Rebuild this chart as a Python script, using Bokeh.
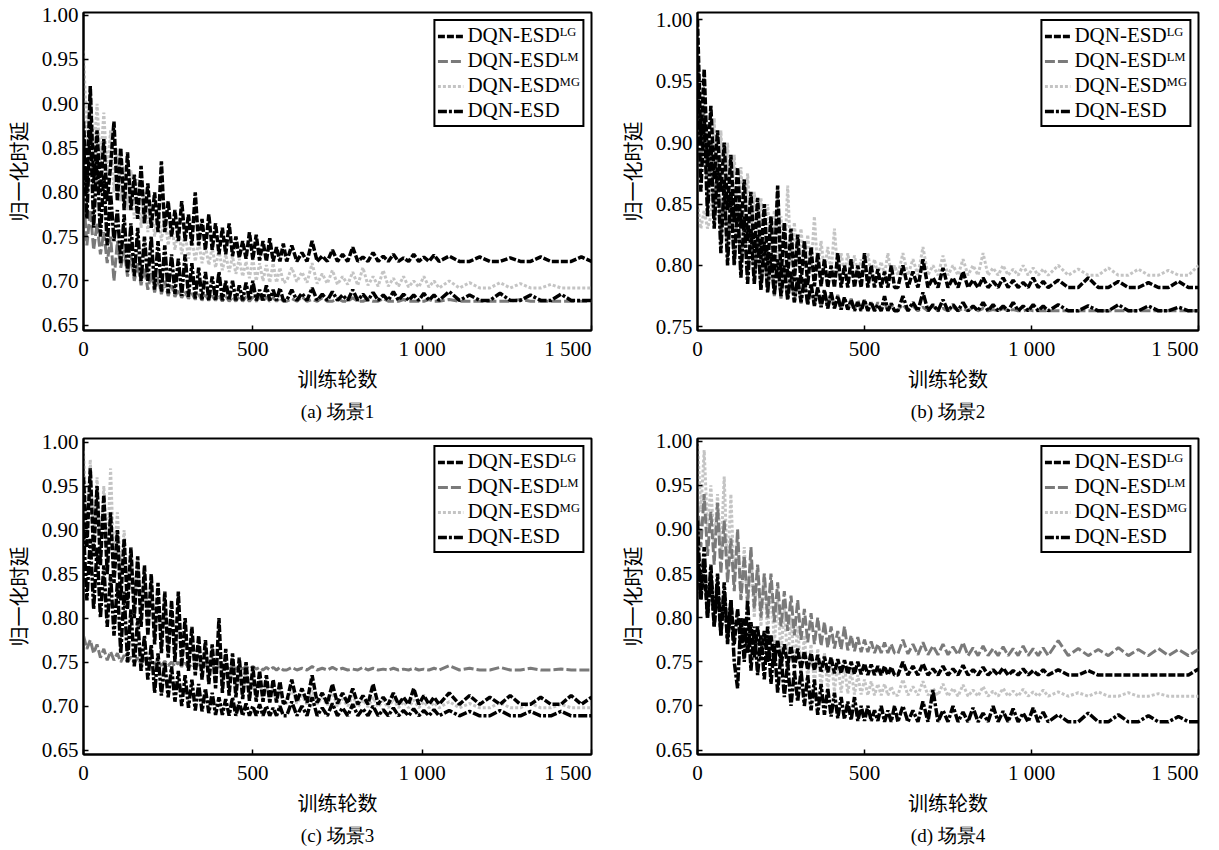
from bokeh.plotting import figure
from bokeh.layouts import column, row
from bokeh.models import Legend, LegendItem, FixedTicker, Title, PrintfTickFormatter, Range1d
from bokeh.embed import file_html
from bokeh.resources import INLINE

# training episodes at which the curves were read (dense early, sparser in the flat tail)
episodes = list(range(0, 600, 10)) + list(range(600, 1050, 15)) + list(range(1050, 1501, 30))

series_labels = ["DQN-ESDᴸᴳ", "DQN-ESDᴸᴹ", "DQN-ESDᴹᴳ", "DQN-ESD"]
x_ticks = [0, 500, 1000, 1500]
x_tick_labels = {0: "0", 500: "500", 1000: "1 000", 1500: "1 500" + "\u00a0" * 4}
y_ticks_full = [0.65, 0.70, 0.75, 0.80, 0.85, 0.90, 0.95, 1.00]
y_ticks_b = [0.75, 0.80, 0.85, 0.90, 0.95, 1.00]
captions = ["(a) 场景1", "(b) 场景2", "(c) 场景3", "(d) 场景4"]
x_title = "训练轮数"
y_title = "归一化时延"

# ---------------- scene 1 ----------------
a_lg = [0.88, 0.80, 0.92, 0.81, 0.87, 0.80, 0.86, 0.79, 0.83, 0.88,
        0.79, 0.85, 0.78, 0.845, 0.78, 0.82, 0.77, 0.83, 0.765, 0.81,
        0.76, 0.80, 0.755, 0.835, 0.755, 0.79, 0.75, 0.78, 0.745, 0.79,
        0.745, 0.775, 0.74, 0.80, 0.74, 0.77, 0.735, 0.775, 0.735, 0.765,
        0.73, 0.76, 0.73, 0.765, 0.728, 0.75, 0.726, 0.745, 0.725, 0.755,
        0.724, 0.752, 0.723, 0.745, 0.722, 0.748, 0.722, 0.738, 0.722, 0.742,
        0.722, 0.74, 0.722, 0.732, 0.722, 0.745, 0.722, 0.728, 0.722, 0.735,
        0.722, 0.73, 0.722, 0.738, 0.722, 0.727, 0.722, 0.732, 0.722, 0.728,
        0.722, 0.73, 0.722, 0.726, 0.722, 0.73, 0.722, 0.727, 0.722, 0.729,
        0.722, 0.728, 0.722, 0.722, 0.727, 0.722, 0.722, 0.726, 0.722, 0.722,
        0.727, 0.722, 0.722, 0.722, 0.727, 0.722]
a_lm = [0.80, 0.74, 0.78, 0.735, 0.765, 0.73, 0.755, 0.72, 0.75, 0.70,
        0.745, 0.715, 0.735, 0.705, 0.73, 0.70, 0.72, 0.695, 0.715, 0.69,
        0.71, 0.687, 0.705, 0.685, 0.70, 0.683, 0.695, 0.682, 0.69, 0.681,
        0.688, 0.68, 0.686, 0.679, 0.685, 0.678, 0.684, 0.678, 0.683, 0.678,
        0.684, 0.677, 0.683, 0.677, 0.682, 0.677, 0.683, 0.677, 0.682, 0.677,
        0.682, 0.677, 0.682, 0.677, 0.682, 0.677, 0.681, 0.677, 0.681, 0.677,
        0.677, 0.68, 0.677, 0.682, 0.677, 0.679, 0.677, 0.681, 0.677, 0.677,
        0.68, 0.677, 0.677, 0.681, 0.677, 0.677, 0.679, 0.677, 0.677, 0.68,
        0.677, 0.677, 0.677, 0.679, 0.677, 0.677, 0.677, 0.677, 0.679, 0.677,
        0.677, 0.679, 0.677, 0.677, 0.677, 0.677, 0.677, 0.677, 0.679, 0.677,
        0.677, 0.677, 0.677, 0.677, 0.677, 0.677]
a_mg = [0.96, 0.86, 0.92, 0.84, 0.90, 0.83, 0.89, 0.82, 0.87, 0.80,
        0.85, 0.79, 0.83, 0.78, 0.825, 0.77, 0.815, 0.76, 0.80, 0.755,
        0.79, 0.75, 0.78, 0.745, 0.775, 0.74, 0.765, 0.735, 0.76, 0.73,
        0.755, 0.725, 0.75, 0.722, 0.745, 0.72, 0.74, 0.718, 0.738, 0.715,
        0.735, 0.712, 0.73, 0.71, 0.728, 0.708, 0.725, 0.705, 0.722, 0.703,
        0.725, 0.70, 0.72, 0.70, 0.718, 0.698, 0.72, 0.698, 0.715, 0.698,
        0.70, 0.715, 0.699, 0.71, 0.698, 0.72, 0.697, 0.708, 0.697, 0.712,
        0.696, 0.705, 0.696, 0.71, 0.695, 0.715, 0.695, 0.705, 0.694, 0.712,
        0.694, 0.703, 0.694, 0.705, 0.693, 0.70, 0.693, 0.705, 0.693, 0.70,
        0.692, 0.70, 0.692, 0.698, 0.692, 0.692, 0.698, 0.692, 0.697, 0.692,
        0.692, 0.696, 0.692, 0.692, 0.692, 0.692]
a_esd = [0.86, 0.77, 0.88, 0.76, 0.84, 0.75, 0.82, 0.74, 0.80, 0.745,
         0.78, 0.72, 0.775, 0.71, 0.765, 0.705, 0.76, 0.70, 0.75, 0.70,
         0.75, 0.69, 0.745, 0.688, 0.74, 0.686, 0.73, 0.685, 0.725, 0.683,
         0.73, 0.682, 0.72, 0.68, 0.715, 0.679, 0.71, 0.678, 0.705, 0.678,
         0.71, 0.678, 0.70, 0.678, 0.70, 0.678, 0.695, 0.678, 0.698, 0.678,
         0.70, 0.678, 0.69, 0.678, 0.695, 0.678, 0.69, 0.678, 0.692, 0.678,
         0.678, 0.69, 0.678, 0.686, 0.678, 0.692, 0.678, 0.685, 0.678, 0.688,
         0.678, 0.684, 0.678, 0.69, 0.678, 0.685, 0.678, 0.687, 0.678, 0.684,
         0.678, 0.688, 0.678, 0.685, 0.678, 0.684, 0.678, 0.686, 0.678, 0.684,
         0.678, 0.688, 0.678, 0.684, 0.678, 0.678, 0.686, 0.678, 0.678, 0.684,
         0.678, 0.678, 0.685, 0.678, 0.678, 0.678]

# ---------------- scene 2 ----------------
b_lg = [1.00, 0.90, 0.96, 0.88, 0.93, 0.87, 0.91, 0.86, 0.90, 0.845,
        0.89, 0.835, 0.88, 0.83, 0.87, 0.82, 0.86, 0.81, 0.855, 0.805,
        0.85, 0.80, 0.84, 0.795, 0.865, 0.79, 0.835, 0.79, 0.83, 0.787,
        0.825, 0.785, 0.82, 0.784, 0.815, 0.783, 0.81, 0.783, 0.805, 0.782,
        0.80, 0.782, 0.81, 0.782, 0.80, 0.782, 0.805, 0.782, 0.80, 0.782,
        0.81, 0.782, 0.80, 0.782, 0.797, 0.782, 0.795, 0.782, 0.80, 0.782,
        0.782, 0.80, 0.782, 0.795, 0.782, 0.805, 0.782, 0.79, 0.782, 0.798,
        0.782, 0.79, 0.782, 0.795, 0.782, 0.788, 0.782, 0.79, 0.782, 0.787,
        0.782, 0.79, 0.782, 0.788, 0.782, 0.786, 0.782, 0.79, 0.782, 0.787,
        0.782, 0.788, 0.782, 0.782, 0.79, 0.782, 0.782, 0.787, 0.782, 0.782,
        0.786, 0.782, 0.782, 0.787, 0.782, 0.782]
b_lm = [0.98, 0.88, 0.93, 0.85, 0.90, 0.84, 0.89, 0.82, 0.87, 0.81,
        0.86, 0.80, 0.85, 0.795, 0.84, 0.79, 0.83, 0.785, 0.82, 0.78,
        0.815, 0.778, 0.81, 0.775, 0.80, 0.773, 0.797, 0.772, 0.793, 0.77,
        0.79, 0.769, 0.787, 0.768, 0.784, 0.767, 0.782, 0.766, 0.78, 0.765,
        0.778, 0.765, 0.776, 0.764, 0.774, 0.764, 0.773, 0.764, 0.772, 0.763,
        0.772, 0.763, 0.77, 0.763, 0.77, 0.763, 0.77, 0.763, 0.769, 0.763,
        0.764, 0.768, 0.763, 0.767, 0.763, 0.766, 0.763, 0.767, 0.763, 0.765,
        0.763, 0.766, 0.763, 0.765, 0.763, 0.766, 0.763, 0.765, 0.763, 0.764,
        0.763, 0.765, 0.763, 0.764, 0.763, 0.763, 0.764, 0.763, 0.763, 0.763,
        0.763, 0.763, 0.763, 0.763, 0.763, 0.763, 0.763, 0.763, 0.763, 0.763,
        0.763, 0.763, 0.763, 0.763, 0.763, 0.763]
b_mg = [0.85, 0.83, 0.845, 0.83, 0.84, 0.92, 0.84, 0.91, 0.85, 0.90,
        0.84, 0.89, 0.835, 0.88, 0.83, 0.875, 0.825, 0.86, 0.82, 0.855,
        0.815, 0.85, 0.81, 0.845, 0.805, 0.84, 0.80, 0.865, 0.80, 0.835,
        0.798, 0.83, 0.797, 0.825, 0.796, 0.84, 0.795, 0.82, 0.795, 0.815,
        0.794, 0.83, 0.794, 0.81, 0.793, 0.81, 0.793, 0.808, 0.793, 0.805,
        0.792, 0.81, 0.792, 0.805, 0.792, 0.803, 0.792, 0.81, 0.792, 0.80,
        0.792, 0.81, 0.792, 0.805, 0.792, 0.815, 0.792, 0.80, 0.792, 0.808,
        0.792, 0.80, 0.792, 0.805, 0.792, 0.80, 0.792, 0.81, 0.792, 0.798,
        0.792, 0.80, 0.792, 0.797, 0.792, 0.80, 0.792, 0.798, 0.792, 0.797,
        0.792, 0.80, 0.792, 0.797, 0.792, 0.792, 0.798, 0.792, 0.792, 0.797,
        0.792, 0.792, 0.796, 0.792, 0.792, 0.80]
b_esd = [0.97, 0.86, 0.92, 0.84, 0.90, 0.83, 0.88, 0.81, 0.87, 0.80,
         0.86, 0.80, 0.85, 0.79, 0.84, 0.785, 0.83, 0.785, 0.825, 0.78,
         0.82, 0.778, 0.81, 0.776, 0.805, 0.775, 0.80, 0.772, 0.795, 0.77,
         0.79, 0.77, 0.79, 0.768, 0.785, 0.767, 0.782, 0.766, 0.78, 0.765,
         0.778, 0.765, 0.775, 0.764, 0.774, 0.764, 0.772, 0.763, 0.77, 0.763,
         0.772, 0.763, 0.77, 0.763, 0.768, 0.763, 0.775, 0.763, 0.769, 0.763,
         0.763, 0.775, 0.763, 0.77, 0.763, 0.778, 0.763, 0.768, 0.763, 0.772,
         0.763, 0.768, 0.763, 0.77, 0.763, 0.767, 0.763, 0.77, 0.763, 0.768,
         0.763, 0.767, 0.763, 0.77, 0.763, 0.767, 0.763, 0.768, 0.763, 0.767,
         0.763, 0.768, 0.763, 0.763, 0.767, 0.763, 0.763, 0.768, 0.763, 0.763,
         0.767, 0.763, 0.763, 0.766, 0.763, 0.763]

# ---------------- scene 3 ----------------
c_lg = [0.96, 0.88, 0.97, 0.87, 0.95, 0.86, 0.94, 0.85, 0.92, 0.84,
        0.90, 0.82, 0.89, 0.81, 0.88, 0.80, 0.87, 0.79, 0.86, 0.78,
        0.85, 0.77, 0.84, 0.76, 0.83, 0.755, 0.82, 0.75, 0.83, 0.745,
        0.80, 0.74, 0.79, 0.735, 0.78, 0.73, 0.775, 0.725, 0.77, 0.72,
        0.80, 0.715, 0.765, 0.712, 0.76, 0.71, 0.755, 0.708, 0.75, 0.706,
        0.745, 0.705, 0.74, 0.705, 0.735, 0.704, 0.73, 0.704, 0.728, 0.703,
        0.705, 0.73, 0.705, 0.72, 0.704, 0.735, 0.704, 0.715, 0.703, 0.725,
        0.703, 0.715, 0.703, 0.72, 0.702, 0.712, 0.702, 0.725, 0.702, 0.71,
        0.702, 0.715, 0.702, 0.71, 0.702, 0.72, 0.702, 0.712, 0.702, 0.71,
        0.702, 0.715, 0.702, 0.712, 0.702, 0.71, 0.702, 0.712, 0.702, 0.702,
        0.71, 0.702, 0.702, 0.712, 0.702, 0.71]
c_lm = [0.78, 0.765, 0.775, 0.76, 0.77, 0.755, 0.765, 0.752, 0.762, 0.752,
        0.76, 0.75, 0.758, 0.75, 0.756, 0.749, 0.755, 0.748, 0.754, 0.747,
        0.753, 0.747, 0.752, 0.746, 0.751, 0.746, 0.75, 0.745, 0.75, 0.745,
        0.749, 0.744, 0.748, 0.744, 0.748, 0.744, 0.747, 0.743, 0.747, 0.743,
        0.746, 0.743, 0.746, 0.742, 0.746, 0.742, 0.745, 0.742, 0.745, 0.742,
        0.745, 0.742, 0.744, 0.741, 0.744, 0.741, 0.744, 0.741, 0.744, 0.741,
        0.741, 0.744, 0.741, 0.743, 0.741, 0.745, 0.741, 0.743, 0.741, 0.744,
        0.741, 0.743, 0.741, 0.742, 0.741, 0.744, 0.741, 0.743, 0.741, 0.742,
        0.741, 0.743, 0.741, 0.742, 0.741, 0.743, 0.741, 0.742, 0.741, 0.743,
        0.741, 0.746, 0.741, 0.743, 0.741, 0.741, 0.744, 0.741, 0.741, 0.743,
        0.741, 0.741, 0.742, 0.741, 0.741, 0.741]
c_mg = [0.99, 0.90, 0.98, 0.89, 0.96, 0.88, 0.95, 0.87, 0.97, 0.86,
        0.92, 0.85, 0.90, 0.84, 0.88, 0.82, 0.87, 0.81, 0.85, 0.80,
        0.84, 0.78, 0.82, 0.77, 0.81, 0.765, 0.80, 0.76, 0.79, 0.75,
        0.78, 0.745, 0.775, 0.74, 0.77, 0.735, 0.765, 0.73, 0.76, 0.725,
        0.755, 0.72, 0.75, 0.718, 0.755, 0.715, 0.745, 0.712, 0.74, 0.71,
        0.735, 0.708, 0.73, 0.706, 0.725, 0.705, 0.72, 0.704, 0.72, 0.703,
        0.703, 0.72, 0.703, 0.712, 0.702, 0.718, 0.702, 0.71, 0.701, 0.715,
        0.70, 0.708, 0.70, 0.712, 0.699, 0.707, 0.699, 0.71, 0.699, 0.706,
        0.698, 0.708, 0.698, 0.705, 0.698, 0.707, 0.698, 0.705, 0.698, 0.704,
        0.698, 0.705, 0.698, 0.703, 0.698, 0.698, 0.704, 0.698, 0.698, 0.703,
        0.698, 0.698, 0.702, 0.698, 0.698, 0.698]
c_esd = [0.90, 0.82, 0.89, 0.81, 0.88, 0.80, 0.86, 0.79, 0.85, 0.78,
         0.84, 0.76, 0.83, 0.75, 0.81, 0.745, 0.80, 0.74, 0.78, 0.73,
         0.77, 0.715, 0.76, 0.712, 0.75, 0.71, 0.745, 0.705, 0.74, 0.70,
         0.735, 0.698, 0.73, 0.695, 0.725, 0.694, 0.72, 0.692, 0.715, 0.69,
         0.71, 0.69, 0.708, 0.689, 0.71, 0.689, 0.705, 0.689, 0.703, 0.689,
         0.70, 0.689, 0.702, 0.689, 0.70, 0.689, 0.698, 0.689, 0.70, 0.689,
         0.689, 0.705, 0.689, 0.70, 0.689, 0.71, 0.689, 0.698, 0.689, 0.703,
         0.689, 0.698, 0.689, 0.702, 0.689, 0.697, 0.689, 0.70, 0.689, 0.696,
         0.689, 0.698, 0.689, 0.695, 0.689, 0.697, 0.689, 0.695, 0.689, 0.696,
         0.689, 0.695, 0.689, 0.694, 0.689, 0.689, 0.695, 0.689, 0.689, 0.694,
         0.689, 0.689, 0.694, 0.689, 0.689, 0.689]

# ---------------- scene 4 ----------------
d_lg = [0.88, 0.82, 0.86, 0.80, 0.85, 0.79, 0.84, 0.78, 0.83, 0.775,
        0.82, 0.77, 0.81, 0.765, 0.80, 0.76, 0.795, 0.755, 0.79, 0.752,
        0.785, 0.75, 0.78, 0.748, 0.775, 0.746, 0.77, 0.745, 0.768, 0.743,
        0.765, 0.742, 0.762, 0.741, 0.76, 0.74, 0.758, 0.739, 0.756, 0.738,
        0.755, 0.737, 0.753, 0.737, 0.752, 0.736, 0.75, 0.736, 0.75, 0.736,
        0.748, 0.735, 0.747, 0.735, 0.745, 0.735, 0.745, 0.735, 0.744, 0.735,
        0.735, 0.75, 0.735, 0.745, 0.735, 0.748, 0.735, 0.742, 0.735, 0.745,
        0.735, 0.742, 0.735, 0.746, 0.735, 0.741, 0.735, 0.744, 0.735, 0.741,
        0.735, 0.743, 0.735, 0.74, 0.735, 0.742, 0.735, 0.74, 0.735, 0.741,
        0.735, 0.741, 0.735, 0.735, 0.74, 0.735, 0.735, 0.735, 0.735, 0.735,
        0.735, 0.735, 0.735, 0.735, 0.735, 0.742]
d_lm = [0.93, 0.88, 0.94, 0.87, 0.92, 0.86, 0.93, 0.85, 0.91, 0.84,
        0.89, 0.83, 0.90, 0.82, 0.87, 0.815, 0.88, 0.81, 0.86, 0.80,
        0.85, 0.80, 0.85, 0.795, 0.84, 0.79, 0.83, 0.785, 0.825, 0.78,
        0.82, 0.775, 0.81, 0.772, 0.805, 0.77, 0.80, 0.768, 0.795, 0.766,
        0.79, 0.765, 0.785, 0.764, 0.79, 0.763, 0.78, 0.762, 0.778, 0.761,
        0.775, 0.761, 0.773, 0.76, 0.77, 0.76, 0.772, 0.76, 0.77, 0.76,
        0.759, 0.775, 0.759, 0.77, 0.758, 0.772, 0.758, 0.768, 0.758, 0.77,
        0.758, 0.767, 0.758, 0.772, 0.757, 0.766, 0.757, 0.768, 0.757, 0.765,
        0.757, 0.767, 0.757, 0.765, 0.757, 0.768, 0.757, 0.765, 0.757, 0.766,
        0.757, 0.774, 0.757, 0.765, 0.757, 0.764, 0.757, 0.766, 0.757, 0.764,
        0.757, 0.765, 0.757, 0.764, 0.757, 0.764]
d_mg = [1.00, 0.92, 0.99, 0.90, 0.95, 0.88, 0.94, 0.87, 0.96, 0.85,
        0.94, 0.84, 0.89, 0.82, 0.88, 0.81, 0.87, 0.80, 0.86, 0.79,
        0.85, 0.78, 0.84, 0.77, 0.82, 0.76, 0.81, 0.75, 0.80, 0.745,
        0.79, 0.735, 0.78, 0.73, 0.77, 0.725, 0.765, 0.72, 0.76, 0.718,
        0.755, 0.716, 0.75, 0.715, 0.745, 0.714, 0.74, 0.713, 0.735, 0.713,
        0.73, 0.712, 0.728, 0.712, 0.725, 0.712, 0.725, 0.712, 0.722, 0.712,
        0.712, 0.73, 0.712, 0.722, 0.712, 0.728, 0.712, 0.72, 0.712, 0.725,
        0.711, 0.72, 0.711, 0.724, 0.711, 0.718, 0.711, 0.722, 0.711, 0.717,
        0.711, 0.72, 0.711, 0.717, 0.711, 0.719, 0.711, 0.716, 0.711, 0.718,
        0.711, 0.716, 0.711, 0.715, 0.711, 0.716, 0.711, 0.711, 0.715, 0.711,
        0.711, 0.714, 0.711, 0.711, 0.711, 0.711]
d_esd = [0.91, 0.82, 0.88, 0.80, 0.86, 0.79, 0.85, 0.78, 0.84, 0.77,
         0.82, 0.75, 0.72, 0.80, 0.75, 0.82, 0.74, 0.79, 0.735, 0.78,
         0.73, 0.79, 0.725, 0.77, 0.715, 0.76, 0.71, 0.75, 0.70, 0.74,
         0.705, 0.74, 0.70, 0.735, 0.695, 0.73, 0.69, 0.725, 0.69, 0.72,
         0.688, 0.715, 0.686, 0.71, 0.685, 0.705, 0.684, 0.71, 0.683, 0.70,
         0.683, 0.70, 0.683, 0.695, 0.683, 0.70, 0.682, 0.695, 0.682, 0.70,
         0.682, 0.70, 0.682, 0.695, 0.682, 0.705, 0.682, 0.718, 0.682, 0.695,
         0.682, 0.70, 0.682, 0.693, 0.682, 0.698, 0.682, 0.692, 0.682, 0.70,
         0.682, 0.694, 0.682, 0.697, 0.682, 0.692, 0.682, 0.698, 0.682, 0.693,
         0.682, 0.69, 0.682, 0.682, 0.692, 0.682, 0.682, 0.69, 0.682, 0.682,
         0.689, 0.682, 0.682, 0.688, 0.682, 0.682]

for name, arr in [("a_lg", a_lg), ("a_lm", a_lm), ("a_mg", a_mg), ("a_esd", a_esd),
                  ("b_lg", b_lg), ("b_lm", b_lm), ("b_mg", b_mg), ("b_esd", b_esd),
                  ("c_lg", c_lg), ("c_lm", c_lm), ("c_mg", c_mg), ("c_esd", c_esd),
                  ("d_lg", d_lg), ("d_lm", d_lm), ("d_mg", d_mg), ("d_esd", d_esd)]:
    assert len(arr) == len(episodes), (name, len(arr), len(episodes))

# line styles in legend order: LG, LM, MG, ESD
line_colors = ["black", "#7a7a7a", "#c4c4c4", "black"]
line_dashes = ["7 2", "10 3", "3 2", "9 2 3 2"]
line_widths = [3.5, 3, 3, 3.5]
draw_order = [2, 1, 0, 3]

SERIF = "Liberation Serif"
CJK = "Noto Sans CJK SC"


def build_panel(series, y_lo, y_hi, y_ticks, caption, width, height,
                b_left, b_right, b_top, b_bottom):
    p = figure(width=width, height=height,
               x_range=Range1d(0, 1500), y_range=Range1d(y_lo, y_hi),
               output_backend="svg", toolbar_location=None,
               min_border_left=b_left, min_border_right=b_right,
               min_border_top=b_top, min_border_bottom=b_bottom)
    p.background_fill_color = "white"
    p.border_fill_color = "white"
    p.outline_line_color = "black"
    p.outline_line_alpha = 1.0
    p.outline_line_width = 2
    p.xgrid.visible = False
    p.ygrid.visible = False

    renderers = [None] * 4
    for i in draw_order:
        renderers[i] = p.line(episodes, series[i], line_color=line_colors[i],
                              line_dash=line_dashes[i], line_width=line_widths[i])

    items = [LegendItem(label=series_labels[i], renderers=[renderers[i]]) for i in range(4)]
    legend = Legend(items=items, location="top_right")
    legend.border_line_color = "black"
    legend.border_line_alpha = 1.0
    legend.border_line_width = 2
    legend.background_fill_color = "white"
    legend.background_fill_alpha = 1.0
    legend.label_text_font = SERIF
    legend.label_text_font_size = "21px"
    legend.label_text_color = "black"
    legend.glyph_width = 26
    legend.glyph_height = 20
    legend.label_height = 20
    legend.label_standoff = 4
    legend.spacing = 0
    legend.padding = 2
    legend.margin = 7
    p.add_layout(legend)

    p.xaxis.ticker = FixedTicker(ticks=x_ticks)
    p.xaxis.major_label_overrides = x_tick_labels
    p.yaxis.ticker = FixedTicker(ticks=y_ticks)
    p.yaxis.formatter = PrintfTickFormatter(format="%.2f")
    p.xaxis.axis_label = x_title
    p.yaxis.axis_label = y_title
    for ax in (p.xaxis[0], p.yaxis[0]):
        ax.major_tick_in = 5
        ax.major_tick_out = 0
        ax.minor_tick_line_color = None
        ax.axis_line_color = "black"
        ax.axis_line_width = 2
        ax.major_tick_line_color = "black"
        ax.major_tick_line_width = 1.5
        ax.major_label_text_font = SERIF
        ax.major_label_text_font_size = "21px"
        ax.major_label_text_color = "black"
        ax.axis_label_text_font = CJK
        ax.axis_label_text_font_size = "20px"
        ax.axis_label_text_font_style = "normal"
        ax.axis_label_text_color = "black"
    p.xaxis.major_label_standoff = 6
    p.xaxis.axis_label_standoff = 0
    p.yaxis.major_label_standoff = 5
    p.yaxis.axis_label_standoff = 6

    cap = Title(text=caption, align="center", text_font=SERIF,
                text_font_size="19px", text_font_style="normal",
                text_color="black", standoff=7)
    p.add_layout(cap, "below")
    return p


pa = build_panel([a_lg, a_lm, a_mg, a_esd], 0.644, 1.003, y_ticks_full, captions[0],
                 612, 425, 80, 21, 12, 92)
pb = build_panel([b_lg, b_lm, b_mg, b_esd], 0.747, 1.006, y_ticks_b, captions[1],
                 607, 425, 85, 21, 12, 92)
pc = build_panel([c_lg, c_lm, c_mg, c_esd], 0.645, 1.004, y_ticks_full, captions[2],
                 612, 424, 80, 21, 13, 90)
pd = build_panel([d_lg, d_lm, d_mg, d_esd], 0.645, 1.003, y_ticks_full, captions[3],
                 607, 424, 85, 21, 13, 90)

layout = column(row(pa, pb), row(pc, pd))
open("out.html", "w").write(file_html(layout, INLINE))
